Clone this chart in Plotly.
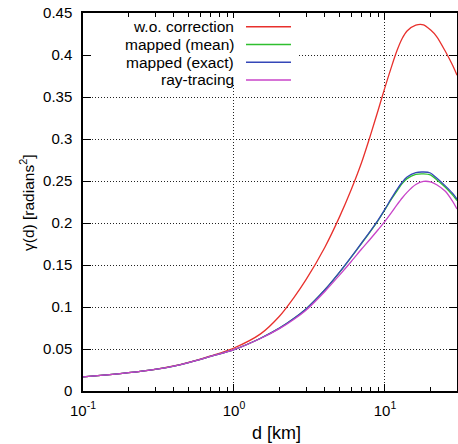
import plotly.graph_objects as go

# ---- data ----
d_km = [0.1, 0.15, 0.2, 0.3, 0.4, 0.5, 0.7, 1, 1.5, 2, 2.5, 3, 4, 5, 6, 7, 8, 9, 10,
        11, 12, 13, 14, 16, 18, 20, 22, 25, 28, 30]

wo_correction = [0.0167, 0.0195, 0.0218, 0.0258, 0.0298, 0.0340, 0.0418, 0.0512, 0.068,
                 0.089, 0.1115, 0.1325, 0.1712, 0.2073, 0.2405, 0.272, 0.304, 0.334, 0.3615,
                 0.385, 0.405, 0.4196, 0.4286, 0.4356, 0.436, 0.430, 0.422, 0.405, 0.388, 0.376]

mapped_mean = [0.0167, 0.0195, 0.0218, 0.0258, 0.0297, 0.0338, 0.0412, 0.0492, 0.0628,
               0.0748, 0.0866, 0.0977, 0.1205, 0.1412, 0.1597, 0.1758, 0.1898, 0.2028, 0.2158,
               0.228, 0.238, 0.2468, 0.2528, 0.2578, 0.2585, 0.2572, 0.2515, 0.2428, 0.2335, 0.2268]

mapped_exact = [0.0167, 0.0195, 0.0218, 0.0258, 0.0297, 0.0338, 0.0412, 0.0492, 0.0628,
                0.0748, 0.0866, 0.0977, 0.1205, 0.1415, 0.1600, 0.1762, 0.1903, 0.2035, 0.2165,
                0.229, 0.2398, 0.2485, 0.2548, 0.2600, 0.2607, 0.2595, 0.2535, 0.2445, 0.2355, 0.2285]

ray_tracing = [0.0167, 0.0195, 0.0218, 0.0258, 0.0297, 0.0338, 0.0412, 0.0492, 0.0625,
               0.0742, 0.0855, 0.0962, 0.1185, 0.138, 0.1545, 0.169, 0.181, 0.192, 0.202,
               0.212, 0.2215, 0.2298, 0.2365, 0.2458, 0.2495, 0.249, 0.2455, 0.238, 0.226, 0.2166]

series_names = ["w.o. correction", "mapped (mean)", "mapped (exact)", "ray-tracing"]
series_values = [wo_correction, mapped_mean, mapped_exact, ray_tracing]
series_colors = ["#e8302c", "#2fbf2f", "#3447b8", "#c844c8"]

x_major = [0.1, 1, 10]
x_major_text = ["10<sup>-1</sup>", "10<sup>0</sup>", "10<sup>1</sup>"]
x_minor = [m * 10 ** e for e in (-1, 0, 1) for m in range(2, 10) if m * 10 ** e <= 30]
y_ticks = [0, 0.05, 0.1, 0.15, 0.2, 0.25, 0.3, 0.35, 0.4, 0.45]
y_text = ["0", "0.05", "0.1", "0.15", "0.2", "0.25", "0.3", "0.35", "0.4", "0.45"]

FONT = "Liberation Sans, Arial, Helvetica, sans-serif"

fig = go.Figure()
for name, vals, col in zip(series_names, series_values, series_colors):
    fig.add_trace(go.Scatter(x=d_km, y=vals, mode="lines", name=name,
                             line=dict(color=col, width=1.3, shape="spline", smoothing=0.8),
                             showlegend=False, hoverinfo="skip"))

W, H = 458, 444
L, R, T, B = 83, 1, 13, 53
pw, ph = W - L - R, H - T - B


def px(xp):
    return (xp - L) / pw


def py(yp):
    return (H - B - yp) / ph


shapes = []
# opaque legend box
shapes.append(dict(type="rect", xref="paper", yref="paper", x0=px(92), x1=px(298),
                   y0=py(85), y1=py(18), fillcolor="white", line=dict(width=0), layer="above"))
annotations = []
row_y = [26.7, 44.5, 62.3, 80.0]
for name, col, ry in zip(series_names, series_colors, row_y):
    annotations.append(dict(xref="paper", yref="paper", x=px(236), y=py(ry), text=name,
                            showarrow=False, xanchor="right", yanchor="middle",
                            font=dict(family=FONT, size=15.5, color="black")))
    shapes.append(dict(type="line", xref="paper", yref="paper", x0=px(246), x1=px(291),
                       y0=py(ry), y1=py(ry), line=dict(color=col, width=1.5), layer="above"))

# axis titles
annotations.append(dict(xref="paper", yref="paper", x=px(27), y=py(203),
                        text="γ(d) [radians<sup>2</sup>]", textangle=-90, showarrow=False,
                        xanchor="center", yanchor="middle",
                        font=dict(family=FONT, size=15.5, color="black")))
annotations.append(dict(xref="paper", yref="paper", x=px(276), y=py(433),
                        text="d [km]", showarrow=False,
                        xanchor="center", yanchor="middle",
                        font=dict(family=FONT, size=18, color="black")))

fig.update_layout(
    width=W, height=H,
    margin=dict(l=L, r=R, t=T, b=B, autoexpand=False),
    paper_bgcolor="white", plot_bgcolor="white",
    font=dict(family=FONT, size=15, color="black"),
    shapes=shapes, annotations=annotations,
)
fig.update_xaxes(
    type="log", range=[-1, 1.4771], tickmode="array", tickvals=x_major, ticktext=x_major_text,
    ticks="inside", ticklen=7, tickwidth=1, tickcolor="black",
    showline=True, linecolor="black", linewidth=1.5, mirror="allticks",
    showgrid=True, gridcolor="#222222", griddash="1px,2px", gridwidth=1,
    minor=dict(tickmode="array", tickvals=x_minor, ticks="inside", ticklen=4,
               tickcolor="black", showgrid=False),
    tickfont=dict(family=FONT, size=15), ticklabelstandoff=5,
    zeroline=False, automargin=False,
)
fig.update_yaxes(
    range=[0, 0.45], tickmode="array", tickvals=y_ticks, ticktext=y_text,
    ticks="inside", ticklen=8, tickwidth=1, tickcolor="black",
    showline=True, linecolor="black", linewidth=1.5, mirror="allticks",
    showgrid=True, gridcolor="#222222", griddash="1px,2px", gridwidth=1,
    tickfont=dict(family=FONT, size=15), ticklabelstandoff=6,
    zeroline=False, automargin=False,
)

fig.write_html("out.html", config={"displayModeBar": False},
               post_script="document.body.style.margin='0';")
